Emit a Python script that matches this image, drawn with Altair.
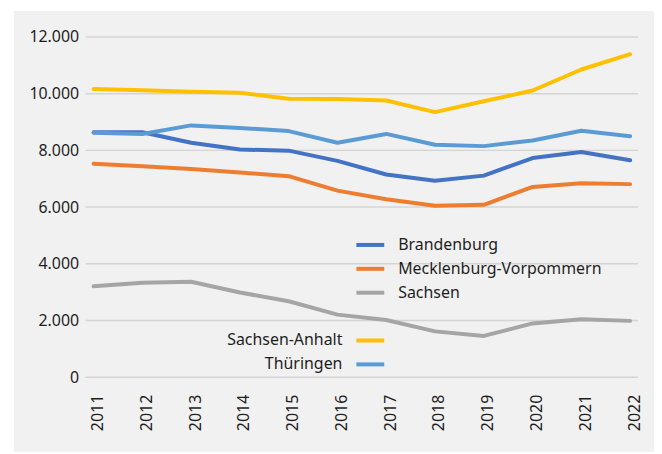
import altair as alt
import pandas as pd

years = [2011, 2012, 2013, 2014, 2015, 2016, 2017, 2018, 2019, 2020, 2021, 2022]
brandenburg = [8640, 8640, 8270, 8030, 7990, 7630, 7150, 6930, 7110, 7730, 7940, 7650]
mecklenburg = [7530, 7440, 7340, 7220, 7090, 6580, 6280, 6050, 6080, 6710, 6840, 6810]
sachsen = [3210, 3330, 3370, 2990, 2680, 2210, 2020, 1620, 1460, 1900, 2050, 1990]
sachsen_anhalt = [10160, 10120, 10070, 10030, 9820, 9810, 9760, 9350, 9730, 10110, 10850, 11390]
thueringen = [8620, 8580, 8880, 8790, 8680, 8270, 8580, 8200, 8150, 8350, 8690, 8500]

group1 = ["Brandenburg", "Mecklenburg-Vorpommern", "Sachsen"]
group1_colors = ["#4472C4", "#ED7D31", "#A5A5A5"]
group2 = ["Sachsen-Anhalt", "Thüringen"]
group2_colors = ["#FFC000", "#5B9BD5"]

y_ticks = [0, 2000, 4000, 6000, 8000, 10000, 12000]

def long(names, series):
    rows = []
    for n, s in zip(names, series):
        for y, v in zip(years, s):
            rows.append({"Jahr": y, "Wert": v, "Land": n})
    return pd.DataFrame(rows)

df1 = long(group1, [brandenburg, mecklenburg, sachsen])
df2 = long(group2, [sachsen_anhalt, thueringen])
grid_df = pd.DataFrame({"Wert": y_ticks})

FONT = "Noto Sans"
TXT = "#1e1e1e"
W, H = 555, 342

x_enc = alt.X(
    "Jahr:O",
    scale=alt.Scale(type="point", padding=0.163),
    axis=alt.Axis(
        title=None, labelAngle=270, labelFontSize=16, labelFont=FONT,
        labelColor=TXT, ticks=False, domain=False, labelPadding=17, labelOffset=4,
        grid=False, zindex=1,
    ),
)
y_scale = alt.Scale(domain=[0, 12000], nice=False)
y_enc = alt.Y(
    "Wert:Q",
    scale=y_scale,
    axis=alt.Axis(
        title=None, values=y_ticks, labelFontSize=16, labelFont=FONT,
        labelColor=TXT, ticks=False, domain=False, labelPadding=7,
        grid=False, zindex=1,
        labelExpr="replace(format(datum.value, ','), ',', '.')",
    ),
)

bg = alt.Chart(alt.Data(values=[{}])).mark_rect(color="#f1f1f1").encode(
    x=alt.value(-72), x2=alt.value(571), y=alt.value(-26), y2=alt.value(417)
)

grid = alt.Chart(grid_df).mark_rule(color="#d4d4d4", strokeWidth=1.5).encode(
    y=y_enc,
    x=alt.value(0), x2=alt.value(W),
)

line_style = dict(strokeWidth=4, strokeCap="round", strokeJoin="round")

l1 = alt.Chart(df1).mark_line(**line_style).encode(
    x=x_enc, y=y_enc,
    color=alt.Color(
        "Land:N",
        scale=alt.Scale(domain=group1, range=group1_colors),
        sort=group1,
        legend=alt.Legend(
            title=None, orient="none", legendX=270, legendY=193,
            symbolType="stroke", symbolSize=784, symbolStrokeWidth=4,
            labelFontSize=16, labelFont=FONT, labelColor=TXT, labelLimit=0,
            labelOffset=12, rowPadding=0, padding=0,
        ),
    ),
)

l2 = alt.Chart(df2).mark_line(**line_style).encode(
    x=x_enc, y=y_enc,
    color=alt.Color(
        "Land2:N",
        scale=alt.Scale(domain=group2, range=group2_colors),
        sort=group2,
        legend=alt.Legend(
            title=None, orient="none", legendX=270, legendY=289,
            symbolType="stroke", symbolSize=784, symbolStrokeWidth=4,
            labelFontSize=16, labelFont=FONT, labelColor=TXT, labelLimit=0,
            labelAlign="right", labelOffset={"expr": "-44"}, rowPadding=0, padding=0,
        ),
    ),
).transform_calculate(Land2="datum.Land")

chart = (
    alt.layer(bg, grid, l1, l2)
    .resolve_scale(color="independent")
    .properties(
        width=W, height=H, background="white",
        padding={"left": 6, "top": 2, "right": 0, "bottom": 0},
    )
    .configure_view(stroke=None)
)

chart.save("out.html", embed_options={"renderer": "svg", "actions": False})
